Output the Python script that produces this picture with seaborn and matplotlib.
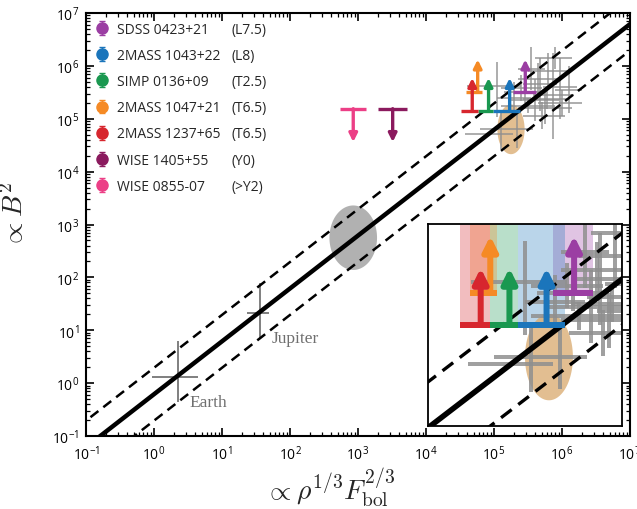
import numpy as np
import pandas as pd
import matplotlib
matplotlib.use("Agg")
import matplotlib.pyplot as plt
import seaborn as sns

# ---------------- data (log10 units) ----------------
names = ['SDSS 0423+21', '2MASS 1043+22', 'SIMP 0136+09', '2MASS 1047+21',
         '2MASS 1237+65', 'WISE 1405+55', 'WISE 0855-07']
sptypes = ['(L7.5)', '(L8)', '(T2.5)', '(T6.5)', '(T6.5)', '(Y0)', '(>Y2)']
colors = ['#9b3ea3', '#1b75bb', '#1a9850', '#f58a25', '#d7262e', '#8b1a5e', '#ec3f86']

# lower limits (brown dwarfs with radio detection): index into names
lim_idx = [0, 1, 2, 3, 4]
lim_xlo = [5.28, 4.99, 4.76, 4.59, 4.51]
lim_xhi = [5.62, 5.38, 4.99, 4.82, 4.76]
lim_xc = [5.46, 5.23, 4.92, 4.76, 4.68]
lim_y = [5.50, 5.15, 5.15, 5.50, 5.15]
lim_len = 0.62

# upper limits (Y dwarfs)
up_idx = [5, 6]
up_x = [3.51, 2.93]
up_xerr = [0.21, 0.19]
up_y = [5.19, 5.19]
up_len = 0.63

# relation: B^2 = coef * (rho^1/3 Fbol^2/3), scatter +-0.5 dex
rel_logcoef = -0.21
rel_scatter = 0.5

# Solar-system planets (log values)
planets = ['Earth', 'Jupiter']
pl_x = [0.35, 1.56]
pl_xlo = [-0.03, 1.37]
pl_xhi = [0.65, 1.69]
pl_y = [0.12, 1.32]
pl_ylo = [-0.35, 0.85]
pl_yhi = [0.79, 1.90]

# ellipses (center x, center y, half-width, half-height, in dex)
ell_cx = [2.93, 5.25]
ell_cy = [2.75, 4.80]
ell_w = [0.35, 0.20]
ell_h = [0.61, 0.47]
ell_col = ['#a9a9a9', '#d9a96c']
ell_alpha = [0.9, 0.75]

# gray stellar crosses (log center, -dx, +dx, -dy, +dy)
st_x = [5.10, 5.34, 5.05, 5.45, 5.60, 5.68, 5.75, 5.87, 5.97, 5.80, 5.90, 5.55, 5.70, 5.30, 6.00, 5.65, 6.10, 5.50, 5.78, 5.40]
st_y = [4.72, 4.80, 5.62, 5.50, 5.35, 5.65, 5.20, 5.45, 5.60, 5.90, 6.15, 5.95, 5.06, 5.40, 5.30, 5.75, 5.55, 5.25, 5.38, 5.58]
st_dxl = [0.53, 0.55, 0.45, 0.30, 0.35, 0.25, 0.40, 0.30, 0.25, 0.30, 0.30, 0.20, 0.28, 0.25, 0.35, 0.30, 0.20, 0.40, 0.35, 0.30]
st_dxh = [0.18, 0.23, 0.35, 0.30, 0.35, 0.25, 0.40, 0.30, 0.25, 0.30, 0.25, 0.20, 0.35, 0.25, 0.30, 0.30, 0.20, 0.40, 0.30, 0.30]
st_dyl = [0.30, 0.35, 0.58, 0.20, 0.40, 0.50, 0.30, 0.83, 0.60, 0.35, 0.20, 0.40, 0.25, 0.30, 0.25, 0.30, 0.45, 0.15, 0.20, 0.25]
st_dyh = [0.45, 0.33, 0.45, 0.20, 0.40, 0.50, 0.30, 0.80, 0.55, 0.35, 0.20, 0.40, 0.25, 0.30, 0.25, 0.30, 0.45, 0.15, 0.20, 0.25]

xlim_main = (-1, 7)
ylim_main = (-1, 7)
xlim_in = (4.24, 5.86)
ylim_in = (4.05, 6.25)

xticks = [-1, 0, 1, 2, 3, 4, 5, 6, 7]
yticks = [-1, 0, 1, 2, 3, 4, 5, 6, 7]

# ---------------- style ----------------
sns.set_theme(style='ticks')
plt.rcParams['font.family'] = ['Open Sans', 'DejaVu Sans']
plt.rcParams['mathtext.fontset'] = 'cm'
plt.rcParams['xtick.direction'] = 'in'
plt.rcParams['ytick.direction'] = 'in'

fig = plt.figure(figsize=(6.37, 5.10), dpi=100)
ax = fig.add_axes([86 / 637, 73 / 510, 544 / 637, 423 / 510])
axin = fig.add_axes([428 / 637, 83 / 510, 194 / 637, 202 / 510])

P = lambda v: 10.0 ** np.asarray(v, dtype=float)


def draw_relation(a, lo, hi, lw_solid, lw_dash):
    grid = np.linspace(lo, hi, 50)
    df = pd.DataFrame({'x': P(grid),
                       'y': P(grid + rel_logcoef),
                       'yu': P(grid + rel_logcoef + rel_scatter),
                       'yl': P(grid + rel_logcoef - rel_scatter)})
    sns.lineplot(data=df, x='x', y='y', ax=a, color='black', lw=lw_solid, zorder=4)
    sns.lineplot(data=df, x='x', y='yu', ax=a, color='black', lw=lw_dash, zorder=4,
                 linestyle=(0, (4, 2.5)))
    sns.lineplot(data=df, x='x', y='yl', ax=a, color='black', lw=lw_dash, zorder=4,
                 linestyle=(0, (4, 2.5)))


def draw_common(a, inset):
    s = 1.8 if inset else 1.0
    g = 2.4 if inset else 1.0
    # ellipses
    t = np.linspace(0, 2 * np.pi, 200)
    for cx, cy, w, h, c, al in zip(ell_cx, ell_cy, ell_w, ell_h, ell_col, ell_alpha):
        a.fill(P(cx + w * np.cos(t)), P(cy + h * np.sin(t)), color=c, alpha=al, lw=0, zorder=1)
    # gray crosses
    for x, y, dxl, dxh, dyl, dyh in zip(st_x, st_y, st_dxl, st_dxh, st_dyl, st_dyh):
        a.errorbar(P(x), P(y),
                   xerr=[[P(x) - P(x - dxl)], [P(x + dxh) - P(x)]],
                   yerr=[[P(y) - P(y - dyl)], [P(y + dyh) - P(y)]],
                   fmt='none', ecolor='#8f8f8f', elinewidth=1.2 * g, alpha=0.85, zorder=2)
    # lower limits
    for k, i in enumerate(lim_idx):
        c = colors[i]
        if inset:
            a.fill_between(P([lim_xlo[k], lim_xhi[k]]), P(lim_y[k]), P(ylim_in[1] + 0.1),
                           color=c, alpha=0.3, lw=0, zorder=0.5)
        a.plot(P([lim_xlo[k], lim_xhi[k]]), P([lim_y[k], lim_y[k]]), color=c,
               lw=2.4 * s, solid_capstyle='butt', zorder=5)
        a.annotate('', xy=(P(lim_xc[k]), P(lim_y[k] + lim_len)),
                   xytext=(P(lim_xc[k]), P(lim_y[k])),
                   arrowprops=dict(arrowstyle='-|>', color=c, lw=2.4 * s,
                                   mutation_scale=12 * s, shrinkA=0, shrinkB=0),
                   zorder=6)


draw_relation(ax, -1.5, 7.5, 3.2, 1.8)
draw_relation(axin, 3.5, 6.5, 4.0, 2.4)
draw_common(ax, False)
draw_common(axin, True)

# upper limits (main only)
for k, i in enumerate(up_idx):
    c = colors[i]
    ax.plot(P([up_x[k] - up_xerr[k], up_x[k] + up_xerr[k]]), P([up_y[k], up_y[k]]),
            color=c, lw=2.4, solid_capstyle='butt', zorder=5)
    ax.annotate('', xy=(P(up_x[k]), P(up_y[k] - up_len)), xytext=(P(up_x[k]), P(up_y[k])),
                arrowprops=dict(arrowstyle='-|>', color=c, lw=2.4, mutation_scale=12,
                                shrinkA=0, shrinkB=0), zorder=6)

# planets
for nm, x, xl, xh, y, yl, yh in zip(planets, pl_x, pl_xlo, pl_xhi, pl_y, pl_ylo, pl_yhi):
    ax.errorbar(P(x), P(y), xerr=[[P(x) - P(xl)], [P(xh) - P(x)]],
                yerr=[[P(y) - P(yl)], [P(yh) - P(y)]], fmt='none', ecolor='#7f7f7f',
                elinewidth=1.4, zorder=3)
    ax.text(P(x + 0.17), P(yl + 0.0), nm, family='Liberation Serif', fontsize=12.5,
            color='#6f6f6f', ha='left', va='center')

# axes setup
for a in (ax, axin):
    a.set_xscale('log')
    a.set_yscale('log')
    a.set_xlabel('')
    a.set_ylabel('')
ax.set_xlim(P(xlim_main[0]), P(xlim_main[1]))
ax.set_ylim(P(ylim_main[0]), P(ylim_main[1]))
ax.set_xticks(P(xticks))
ax.set_yticks(P(yticks))
ax.tick_params(which='both', top=True, right=True, labelsize=10, colors='black')
ax.tick_params(which='major', length=6, width=1.2)
ax.tick_params(which='minor', length=3, width=0.9)
ax.tick_params(axis='x', which='major', pad=6)
ax.tick_params(axis='y', which='major', pad=5)
for sp in ax.spines.values():
    sp.set_linewidth(1.5)
    sp.set_color('black')
ax.set_xlabel(r'$\propto \rho^{1/3}F_{\rm bol}^{2/3}$', fontsize=20)
ax.set_ylabel(r'$\propto B^2$', fontsize=20)
ax.xaxis.set_label_coords((330 - 86) / 544, -(467 - 437) / 423)
ax.yaxis.set_label_coords(-(86 - 30) / 544, (437 - 215) / 423)

axin.set_xlim(P(xlim_in[0]), P(xlim_in[1]))
axin.set_ylim(P(ylim_in[0]), P(ylim_in[1]))
axin.set_xticks([])
axin.set_yticks([])
axin.minorticks_off()
axin.set_facecolor('white')
for sp in axin.spines.values():
    sp.set_linewidth(1.3)
    sp.set_color('black')

# legend
handles = []
for nm, c in zip(names, colors):
    h = ax.errorbar([np.nan], [np.nan], yerr=[1], fmt='o', color=c, ms=8,
                    elinewidth=1.0, capsize=2, label=nm)
    handles.append(h)
leg = ax.legend(handles=handles, labels=names, loc='upper left', bbox_to_anchor=(0.0, 1.0),
                frameon=False, fontsize=10, handlelength=1.0, handletextpad=0.6,
                labelspacing=0.8, borderaxespad=0.25, numpoints=1)
fig.canvas.draw()
inv = fig.transFigure.inverted()
for txt, sp in zip(leg.get_texts(), sptypes):
    bb = txt.get_window_extent()
    _, yc = inv.transform(((bb.x0 + bb.x1) / 2, (bb.y0 + bb.y1) / 2))
    fig.text(231 / 637, yc, sp, fontsize=10, va='center', ha='left')

fig.savefig('out.png', dpi=100)
